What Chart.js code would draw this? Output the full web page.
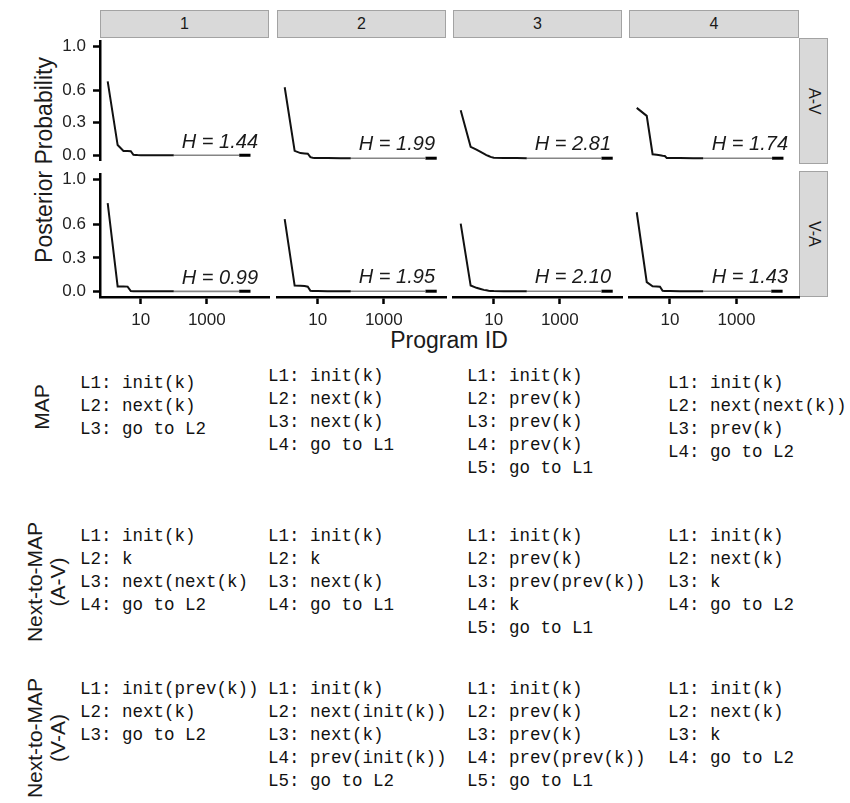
<!DOCTYPE html>
<html>
<head>
<meta charset="utf-8">
<script src="https://cdn.jsdelivr.net/npm/chart.js@4.4.1/dist/chart.umd.min.js"></script>
<style>
  body { margin: 0; background: #fff; width: 850px; height: 803px; position: relative; overflow: hidden;
         font-family: "Liberation Sans", Arial, sans-serif; color: #1a1a1a; }
  canvas { position: absolute; }
  .strip { position: absolute; background: #d9d9d9; border: 1px solid #a3a3a3; box-sizing: border-box;
           display: flex; align-items: center; justify-content: center; font-size: 16px; color: #1a1a1a; }
  .vtext { writing-mode: vertical-rl; }
  .rot { position: absolute; transform: translate(-50%, -50%) rotate(-90deg); white-space: nowrap; text-align: center; }
  .code { position: absolute; font-family: "Liberation Mono", "DejaVu Sans Mono", monospace; font-size: 17.5px;
          line-height: 23px; white-space: pre; color: #111; }
</style>
</head>
<body>
<div class="rot" style="left:44px;top:160px;font-size:23px;">Posterior Probability</div>
<div style="position:absolute;left:449px;top:340px;transform:translate(-50%,-50%);font-size:23px;white-space:nowrap;">Program ID</div>
<script>
// facet labels
const colLabels = ["1", "2", "3", "4"];
const rowLabels = ["A-V", "V-A"];
const entropy = [
  ["1.44", "1.99", "2.81", "1.74"],
  ["0.99", "1.95", "2.10", "1.43"],
];

// program IDs (log x) and posterior probabilities
const programIds = [1, 2, 3, 4, 5, 6, 7, 8, 10, 20, 50, 100];
const posteriorAV = [
  [0.68, 0.095, 0.04, 0.04, 0.038, 0.005, 0.004, 0.003, 0.002, 0.002, 0.001, 0.001],
  [0.62, 0.065, 0.045, 0.042, 0.04, 0.01, 0.004, 0.003, 0.002, 0.002, 0.001, 0.001],
  [0.42, 0.1, 0.075, 0.055, 0.04, 0.028, 0.02, 0.012, 0.004, 0.003, 0.002, 0.001],
  [0.44, 0.37, 0.035, 0.03, 0.026, 0.022, 0.02, 0.003, 0.002, 0.002, 0.001, 0.001],
];
const posteriorVA = [
  [0.79, 0.045, 0.044, 0.043, 0.003, 0.002, 0.002, 0.002, 0.001, 0.001, 0.001, 0.001],
  [0.63, 0.05, 0.048, 0.046, 0.04, 0.005, 0.003, 0.002, 0.002, 0.001, 0.001, 0.001],
  [0.59, 0.05, 0.03, 0.02, 0.012, 0.008, 0.004, 0.003, 0.002, 0.001, 0.001, 0.001],
  [0.69, 0.08, 0.043, 0.042, 0.04, 0.004, 0.003, 0.002, 0.002, 0.001, 0.001, 0.001],
];
// long tail: start, last program id per panel, value
const tailStart = 100;
const lastIdAV = [21000, 40000, 40000, 26000];
const lastIdVA = [21000, 40000, 40000, 24500];
const tailValue = 0.0005;

const xTicks = [10, 1000];
const yTicks = [0, 0.3, 0.6, 1.0];

// programs shown under the plot
const rowNames = [["MAP"], ["Next-to-MAP", "(A-V)"], ["Next-to-MAP", "(V-A)"]];
const mapPrograms = [
  ["L1: init(k)", "L2: next(k)", "L3: go to L2"],
  ["L1: init(k)", "L2: next(k)", "L3: next(k)", "L4: go to L1"],
  ["L1: init(k)", "L2: prev(k)", "L3: prev(k)", "L4: prev(k)", "L5: go to L1"],
  ["L1: init(k)", "L2: next(next(k))", "L3: prev(k)", "L4: go to L2"],
];
const nextAVPrograms = [
  ["L1: init(k)", "L2: k", "L3: next(next(k)", "L4: go to L2"],
  ["L1: init(k)", "L2: k", "L3: next(k)", "L4: go to L1"],
  ["L1: init(k)", "L2: prev(k)", "L3: prev(prev(k))", "L4: k", "L5: go to L1"],
  ["L1: init(k)", "L2: next(k)", "L3: k", "L4: go to L2"],
];
const nextVAPrograms = [
  ["L1: init(prev(k))", "L2: next(k)", "L3: go to L2"],
  ["L1: init(k)", "L2: next(init(k))", "L3: next(k)", "L4: prev(init(k))", "L5: go to L2"],
  ["L1: init(k)", "L2: prev(k)", "L3: prev(k)", "L4: prev(prev(k))", "L5: go to L1"],
  ["L1: init(k)", "L2: next(k)", "L3: k", "L4: go to L2"],
];

// layout of the panels (pixels)
const colLeft = [100, 277, 453, 629];
const colRight = [269, 446, 622, 799];
const rowTop = [38, 171];
const rowBottom = [164, 297];
const PAD = 14;

Chart.defaults.font.family = '"Liberation Sans", Arial, sans-serif';
Chart.defaults.color = "#222";

function addDiv(cls, style, html) {
  const d = document.createElement("div");
  d.className = cls;
  d.setAttribute("style", style);
  d.innerHTML = html;
  document.body.appendChild(d);
  return d;
}

// strips
colLabels.forEach((lab, c) => {
  addDiv("strip", `left:${colLeft[c]}px;top:10px;width:${colRight[c] - colLeft[c]}px;height:28px;`, lab);
});
rowLabels.forEach((lab, r) => {
  addDiv("strip", `left:799px;top:${rowTop[r]}px;width:29px;height:${rowBottom[r] - rowTop[r]}px;`,
    `<span class="vtext">${lab}</span>`);
});

const entropyLabel = {
  id: "entropyLabel",
  afterDatasetsDraw(chart, args, opts) {
    const { ctx, chartArea, scales } = chart;
    ctx.save();
    ctx.font = 'italic 20px "Liberation Sans", Arial, sans-serif';
    ctx.fillStyle = "#1a1a1a";
    ctx.textAlign = "right";
    ctx.textBaseline = "alphabetic";
    ctx.fillText("H = " + opts.text, chartArea.right - 11, scales.y.getPixelForValue(0.07));
    ctx.restore();
  },
};

function makePanel(r, c) {
  const values = r === 0 ? posteriorAV[c] : posteriorVA[c];
  const lastId = r === 0 ? lastIdAV[c] : lastIdVA[c];
  const showY = c === 0;
  const showX = r === 1;

  const left = showY ? 0 : colLeft[c] - PAD;
  const top = rowTop[r] - PAD;
  const right = colRight[c] + PAD;
  const bottom = showX ? rowBottom[r] + 42 : rowBottom[r] + PAD;

  const cv = document.createElement("canvas");
  cv.width = right - left;
  cv.height = bottom - top;
  cv.style.left = left + "px";
  cv.style.top = top + "px";
  cv.style.width = cv.width + "px";
  cv.style.height = cv.height + "px";
  document.body.appendChild(cv);

  const head = programIds.map((x, i) => ({ x: x, y: values[i] }));
  const split = lastId / 2.2;

  new Chart(cv.getContext("2d"), {
    type: "line",
    data: {
      datasets: [
        { data: head, borderColor: "#111", borderWidth: 2, pointRadius: 0, tension: 0 },
        { data: [{ x: tailStart, y: tailValue }, { x: split, y: tailValue }],
          borderColor: "#858585", borderWidth: 1.6, pointRadius: 0 },
        { data: [{ x: split, y: tailValue }, { x: lastId, y: tailValue }],
          borderColor: "#000", borderWidth: 3, pointRadius: 0 },
      ],
    },
    options: {
      responsive: false,
      animation: false,
      events: [],
      layout: { padding: { left: showY ? 0 : PAD, right: PAD, top: PAD, bottom: showX ? 0 : PAD } },
      plugins: { legend: { display: false }, tooltip: { enabled: false }, entropyLabel: { text: entropy[r][c] } },
      scales: {
        x: {
          type: "logarithmic",
          min: 0.585,
          max: 76300,
          bounds: "data",
          display: showX,
          afterFit: (s) => { if (showX) s.height = 42; },
          afterBuildTicks: (s) => { s.ticks = xTicks.map((v) => ({ value: v })); },
          border: { display: true, color: "#000", width: 2.5 },
          grid: { drawOnChartArea: false, tickLength: 7, tickWidth: 2.5, tickColor: "#000" },
          ticks: { font: { size: 17 }, color: "#222", padding: 6, maxRotation: 0, autoSkip: false,
                   callback: (v) => String(v) },
        },
        y: {
          min: -0.05,
          max: 1.05,
          bounds: "data",
          display: showY,
          afterFit: (s) => { if (showY) s.width = 100; },
          afterBuildTicks: (s) => { s.ticks = yTicks.map((v) => ({ value: v })); },
          border: { display: true, color: "#000", width: 2.5 },
          grid: { drawOnChartArea: false, tickLength: 7, tickWidth: 2.5, tickColor: "#000" },
          ticks: { font: { size: 17 }, color: "#222", padding: 7, autoSkip: false,
                   callback: (v) => Number(v).toFixed(1) },
        },
      },
    },
    plugins: [entropyLabel],
  });
}

for (let r = 0; r < 2; r++) {
  for (let c = 0; c < 4; c++) makePanel(r, c);
}

// program listings
const codeX = [80, 268, 467, 668];
const codeY = [
  [383, 376, 376, 383],
  [536, 536, 536, 536],
  [689, 689, 689, 689],
];
const rowNameCenter = [[41, 407], [46, 582], [46, 738]];
[mapPrograms, nextAVPrograms, nextVAPrograms].forEach((progs, row) => {
  addDiv("rot", `left:${rowNameCenter[row][0]}px;top:${rowNameCenter[row][1]}px;font-size:21px;line-height:23px;`,
    rowNames[row].join("<br>"));
  progs.forEach((lines, c) => {
    addDiv("code", `left:${codeX[c]}px;top:${codeY[row][c] - 11.5}px;`, lines.join("\n"));
  });
});
</script>
</body>
</html>
